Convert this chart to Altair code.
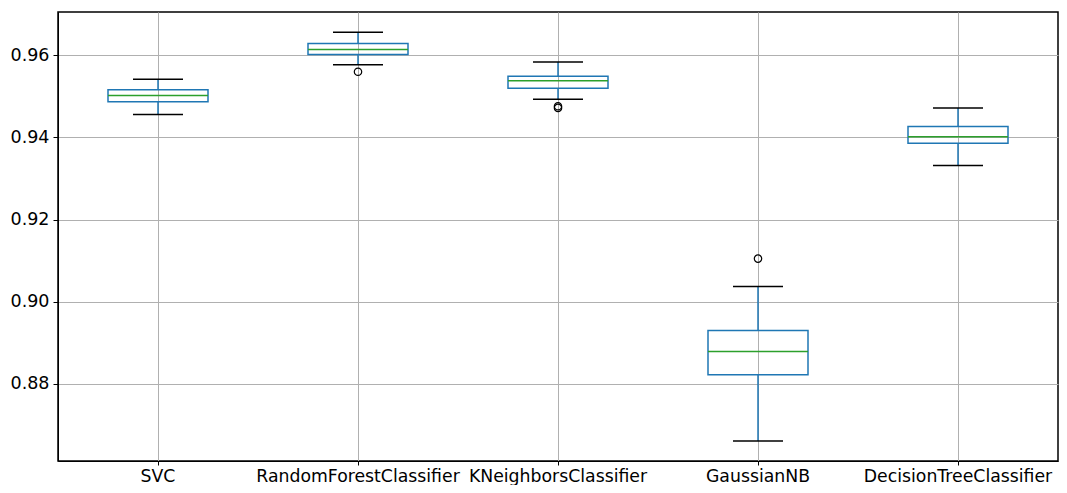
import altair as alt
import pandas as pd

models = ["SVC", "RandomForestClassifier", "KNeighborsClassifier", "GaussianNB", "DecisionTreeClassifier"]
whisk_lo = [0.9456, 0.9577, 0.9493, 0.8661, 0.9332]
q1 = [0.9487, 0.9602, 0.9520, 0.8822, 0.9386]
median = [0.9502, 0.9614, 0.9538, 0.8879, 0.9402]
q3 = [0.9516, 0.9629, 0.9549, 0.8930, 0.9427]
whisk_hi = [0.9542, 0.9656, 0.9584, 0.9037, 0.9472]

out_model = ["RandomForestClassifier", "KNeighborsClassifier", "KNeighborsClassifier", "GaussianNB"]
out_value = [0.9560, 0.9476, 0.9472, 0.9105]

y_ticks = [0.88, 0.90, 0.92, 0.94, 0.96]
y_min, y_max = 0.86122, 0.97055

stats = pd.DataFrame({"model": models, "lo": whisk_lo, "q1": q1, "med": median,
                      "q3": q3, "hi": whisk_hi})
outs = pd.DataFrame({"model": out_model, "value": out_value})

FONT = "DejaVu Sans"
x_enc = alt.X("model:N", sort=models, title=None,
              scale=alt.Scale(type="band", paddingInner=0, paddingOuter=0),
              axis=alt.Axis(labelAngle=0, labelFontSize=17.3, labelFont=FONT,
                            labelColor="black", tickColor="black", tickSize=4,
                            labelPadding=2, domainColor="black", grid=True,
                            gridColor="#b0b0b0", gridWidth=1, bandPosition=0.5,
                            labelOverlap=False, labelLimit=0))
y_scale = alt.Scale(domain=[y_min, y_max], nice=False, zero=False)
y_axis = alt.Axis(values=y_ticks, format=".2f", labelFontSize=17.5, labelFont=FONT,
                  labelColor="black", tickColor="black", tickSize=5, labelPadding=4,
                  domainColor="black", grid=True, gridColor="#b0b0b0", gridWidth=1, title=None)

base = alt.Chart(stats)

whisk_low = base.mark_rule(color="#1f77b4", strokeWidth=1.5).encode(
    x=x_enc, y=alt.Y("lo:Q", scale=y_scale, axis=y_axis), y2="q1:Q")
whisk_high = base.mark_rule(color="#1f77b4", strokeWidth=1.5).encode(
    x=x_enc, y=alt.Y("q3:Q", scale=y_scale, axis=y_axis), y2="hi:Q")
box = base.mark_bar(size=100, fill=None, fillOpacity=0, stroke="#1f77b4", strokeWidth=1.5).encode(
    x=x_enc, y=alt.Y("q1:Q", scale=y_scale, axis=y_axis), y2="q3:Q")
med = base.mark_tick(color="#2ca02c", size=100, thickness=1.5, opacity=1).encode(
    x=x_enc, y=alt.Y("med:Q", scale=y_scale, axis=y_axis))
cap_lo = base.mark_tick(color="black", size=50, thickness=1.5, opacity=1).encode(
    x=x_enc, y=alt.Y("lo:Q", scale=y_scale, axis=y_axis))
cap_hi = base.mark_tick(color="black", size=50, thickness=1.5, opacity=1).encode(
    x=x_enc, y=alt.Y("hi:Q", scale=y_scale, axis=y_axis))
pts = alt.Chart(outs).mark_point(shape="circle", filled=False, color="black",
                                 size=55, strokeWidth=1.2, opacity=1).encode(
    x=x_enc, y=alt.Y("value:Q", scale=y_scale, axis=y_axis))

chart = alt.layer(whisk_low, whisk_high, box, med, cap_lo, cap_hi, pts).properties(
    width=1000, height=449,
    padding={"left": 50, "top": 4, "right": 1, "bottom": 24},
    autosize=alt.AutoSizeParams(type="none"),
    background="white",
).configure_view(stroke="#000000", strokeWidth=1.5, strokeOpacity=1)

chart.save("out.html", embed_options={"renderer": "svg", "actions": False})
